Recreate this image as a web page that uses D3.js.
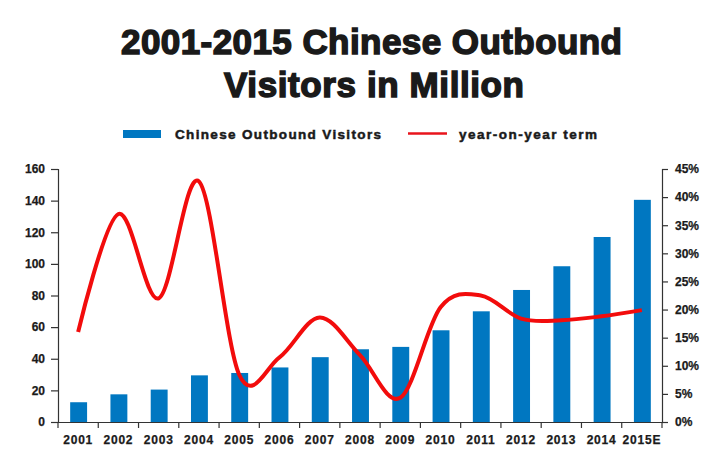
<!DOCTYPE html>
<html>
<head>
<meta charset="utf-8">
<script src="https://cdn.jsdelivr.net/npm/d3@7"></script>
<style>
  body { margin: 0; background: #fff; }
  text { font-family: "Liberation Sans", Arial, sans-serif; font-weight: bold; fill: #1a1a1a; }
</style>
</head>
<body>
<script>
// chart data
var years = ["2001","2002","2003","2004","2005","2006","2007","2008","2009","2010","2011","2012","2013","2014","2015E"];
var visitors = [12.5, 17.5, 20.5, 29.5, 31, 34.5, 41, 46, 47.5, 58, 70, 83.5, 98.5, 117, 140.5];
var growth = [0.16, 0.37, 0.22, 0.428, 0.084, 0.115, 0.186, 0.119, 0.043, 0.204, 0.225, 0.184, 0.181, 0.188, 0.199];
var leftTicks = [0, 20, 40, 60, 80, 100, 120, 140, 160];
var rightTicks = [0, 0.05, 0.10, 0.15, 0.20, 0.25, 0.30, 0.35, 0.40, 0.45];

var width = 720, height = 450;
var plotLeft = 58, plotRight = 662, plotTop = 169, plotBottom = 422;

var svg = d3.select("body").append("svg")
            .attr("width", width)
            .attr("height", height);

// title
svg.append("text")
   .attr("x", 121).attr("y", 54)
   .attr("textLength", 501).attr("lengthAdjust", "spacing")
   .style("font-size", "35px")
   .style("stroke", "#1a1a1a").style("stroke-width", 1.5)
   .text("2001-2015 Chinese Outbound");
svg.append("text")
   .attr("x", 224).attr("y", 97)
   .attr("textLength", 300).attr("lengthAdjust", "spacing")
   .style("font-size", "35px")
   .style("stroke", "#1a1a1a").style("stroke-width", 1.5)
   .text("Visitors in Million");

// legend
svg.append("rect")
   .attr("x", 123).attr("y", 130).attr("width", 38).attr("height", 8)
   .style("fill", "#0077c1");
svg.append("text")
   .attr("x", 175).attr("y", 138.5)
   .attr("textLength", 206).attr("lengthAdjust", "spacing")
   .style("font-size", "13.5px")
   .style("stroke", "#1a1a1a").style("stroke-width", 0.5)
   .text("Chinese Outbound Visitors");
svg.append("line")
   .attr("x1", 408).attr("x2", 447).attr("y1", 133.5).attr("y2", 133.5)
   .attr("stroke", "#e8141c").attr("stroke-width", 2.5);
svg.append("text")
   .attr("x", 459).attr("y", 138.5)
   .attr("textLength", 138).attr("lengthAdjust", "spacing")
   .style("font-size", "13.5px")
   .style("stroke", "#1a1a1a").style("stroke-width", 0.5)
   .text("year-on-year term");

var x = d3.scaleBand().domain(years).range([plotLeft, plotRight]).padding(0);
var y = d3.scaleLinear().domain([0, 160]).range([plotBottom, plotTop]);
var y2 = d3.scaleLinear().domain([0, 0.45]).range([plotBottom, plotTop]);

// bars
var bw = x.bandwidth() * 0.42;
svg.selectAll(".bar")
   .data(visitors)
   .enter().append("rect")
   .attr("class", "bar")
   .attr("x", function(d, i){ return x(years[i]) + x.bandwidth()/2 - bw/2 + 0.5; })
   .attr("y", function(d){ return y(d); })
   .attr("width", bw)
   .attr("height", function(d){ return plotBottom - y(d); })
   .style("fill", "#0077c1");

// axes
var axisColor = "#333";
var gl = svg.append("g").attr("transform", "translate(" + plotLeft + ",0)")
            .call(d3.axisLeft(y).tickValues(leftTicks).tickSize(7).tickPadding(6));
var gr = svg.append("g").attr("transform", "translate(" + plotRight + ",0)")
            .call(d3.axisRight(y2).tickValues(rightTicks).tickSize(6).tickPadding(7)
                  .tickFormat(d3.format(".0%")));
var gb = svg.append("g").attr("transform", "translate(0," + plotBottom + ")")
            .call(d3.axisBottom(x).tickSize(0).tickPadding(13));

// tick marks between the years
gb.selectAll(".sep")
  .data(years.concat(["end"]))
  .enter().append("line")
  .attr("class", "sep")
  .attr("x1", function(d, i){ return plotLeft + i * x.bandwidth(); })
  .attr("x2", function(d, i){ return plotLeft + i * x.bandwidth(); })
  .attr("y1", 0).attr("y2", 6)
  .attr("stroke", axisColor).attr("stroke-width", 1.2);

[gl, gr, gb].forEach(function(g){
  g.select(".domain").attr("stroke", axisColor).attr("stroke-width", 1.2);
  g.selectAll(".tick line").attr("stroke", axisColor).attr("stroke-width", 1.2);
  g.selectAll("text").style("font-size", "12px").style("fill", "#1a1a1a")
   .style("stroke", "#1a1a1a").style("stroke-width", 0.25)
   .attr("font-family", null);
});
gb.selectAll("text").style("letter-spacing", "0.8px");
gr.selectAll("text").attr("text-anchor", "start");

// growth line
var line = d3.line()
   .x(function(d, i){ return x(years[i]) + x.bandwidth()/2; })
   .y(function(d){ return y2(d); })
   .curve(d3.curveCardinal.tension(0));

svg.append("path")
   .datum(growth)
   .attr("d", line)
   .attr("fill", "none")
   .attr("stroke", "#f20c0c")
   .attr("stroke-width", 4)
   .attr("stroke-linejoin", "round");
</script>
</body>
</html>
